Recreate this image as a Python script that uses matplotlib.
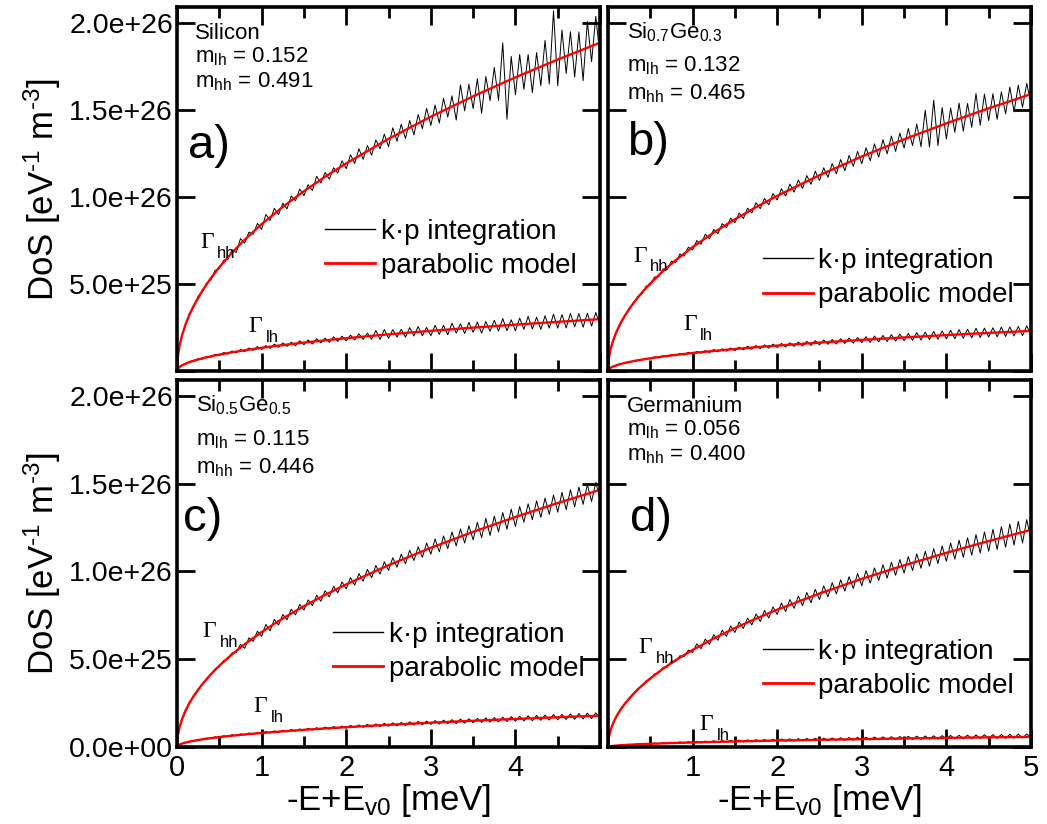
import numpy as np
import matplotlib
matplotlib.use("Agg")
import matplotlib.pyplot as plt
from matplotlib.lines import Line2D
from matplotlib.ticker import MultipleLocator, FuncFormatter

plt.rcParams['font.family'] = ['Liberation Sans', 'DejaVu Sans']
plt.rcParams['mathtext.fontset'] = 'custom'
plt.rcParams['mathtext.rm'] = 'Liberation Sans'
plt.rcParams['mathtext.it'] = 'Liberation Sans:italic'

SCALE = 1e25  # all DoS values below are in 1e25 eV^-1 m^-3

# energy grid of the k.p integration (meV)
E_KP = np.round(np.arange(1, 101) * 0.05, 2)
# energy points of the parabolic model curve (meV)
E_MODEL = [0, 0.01, 0.03, 0.06, 0.1, 0.15, 0.2, 0.3, 0.4, 0.5, 0.65, 0.8, 1.0,
           1.25, 1.5, 1.75, 2.0, 2.5, 3.0, 3.5, 4.0, 4.5, 5.0]

# a) Silicon
si_hh_model = [0, 0.843, 1.460, 2.065, 2.666, 3.265, 3.770, 4.617, 5.332, 5.961, 6.796, 7.540, 8.43,
               9.425, 10.324, 11.152, 11.922, 13.329, 14.602, 15.771, 16.86, 17.883, 18.850]
si_lh_model = [0, 0.133, 0.230, 0.326, 0.421, 0.515, 0.595, 0.728, 0.841, 0.940, 1.072, 1.190, 1.33,
               1.487, 1.629, 1.759, 1.881, 2.103, 2.304, 2.488, 2.66, 2.821, 2.974]
si_hh_kp = [1.93, 2.61, 3.34, 3.72, 4.30, 4.55, 5.05, 5.23, 5.78, 5.88,
            6.35, 6.41, 6.95, 6.80, 7.60, 7.34, 7.97, 7.85, 8.47, 8.13,
            8.99, 8.64, 9.34, 8.98, 9.63, 9.31, 10.05, 9.77, 10.45, 10.07,
            10.70, 10.36, 11.18, 10.79, 11.40, 11.01, 11.67, 11.37, 12.07, 11.62,
            12.42, 11.92, 12.76, 12.15, 12.95, 12.39, 13.27, 12.76, 13.60, 12.88,
            13.96, 13.19, 14.17, 13.35, 14.38, 13.56, 14.73, 13.91, 15.08, 14.10,
            15.27, 14.24, 15.66, 14.58, 15.80, 14.41, 16.43, 14.94, 16.46, 15.07,
            16.78, 14.80, 16.91, 15.52, 17.43, 15.53, 18.84, 14.45, 18.06, 15.86,
            18.17, 16.17, 18.17, 15.98, 18.28, 16.38, 18.98, 16.48, 20.68, 16.38,
            19.58, 17.08, 19.48, 16.88, 19.47, 16.67, 20.07, 17.76, 20.36, 18.05]
si_lh_kp = [0.32, 0.39, 0.55, 0.56, 0.71, 0.68, 0.84, 0.79, 0.95, 0.88,
            1.06, 0.97, 1.15, 1.04, 1.23, 1.11, 1.32, 1.18, 1.40, 1.24,
            1.46, 1.30, 1.54, 1.36, 1.61, 1.41, 1.65, 1.45, 1.73, 1.51,
            1.78, 1.55, 1.85, 1.61, 1.89, 1.64, 1.96, 1.70, 2.00, 1.73,
            2.06, 1.78, 2.13, 1.81, 2.17, 1.82, 2.32, 1.81, 2.38, 1.88,
            2.37, 1.95, 2.39, 1.94, 2.49, 2.01, 2.55, 2.02, 2.50, 2.02,
            2.62, 2.10, 2.62, 2.08, 2.75, 2.17, 2.71, 2.15, 2.79, 2.22,
            2.81, 2.17, 2.84, 2.28, 2.91, 2.29, 3.01, 2.31, 2.94, 2.31,
            3.04, 2.39, 3.13, 2.41, 3.09, 2.38, 3.17, 2.46, 3.26, 2.46,
            3.24, 2.47, 3.31, 2.53, 3.30, 2.51, 3.31, 2.58, 3.36, 2.62]

# b) Si0.7Ge0.3
sg73_hh_model = [0, 0.711, 1.231, 1.741, 2.248, 2.754, 3.180, 3.894, 4.497, 5.027, 5.732, 6.359, 7.11,
                 7.949, 8.708, 9.406, 10.055, 11.242, 12.315, 13.301, 14.22, 15.082, 15.899]
sg73_lh_model = [0, 0.103, 0.178, 0.252, 0.326, 0.399, 0.461, 0.564, 0.651, 0.728, 0.830, 0.921, 1.03,
                 1.152, 1.261, 1.363, 1.457, 1.629, 1.784, 1.927, 2.06, 2.185, 2.303]
sg73_hh_kp = [1.62, 2.21, 2.80, 3.13, 3.62, 3.83, 4.28, 4.42, 4.87, 4.93,
              5.39, 5.41, 5.86, 5.83, 6.31, 6.22, 6.72, 6.60, 7.11, 6.95,
              7.49, 7.28, 7.85, 7.59, 8.13, 7.89, 8.46, 8.23, 8.78, 8.51,
              9.07, 8.75, 9.35, 9.07, 9.66, 9.32, 9.91, 9.54, 10.18, 9.82,
              10.46, 10.04, 10.73, 10.27, 10.97, 10.48, 11.22, 10.72, 11.47, 10.94,
              11.67, 11.12, 11.91, 11.32, 12.14, 11.50, 12.38, 11.75, 12.61, 11.90,
              12.82, 12.07, 13.04, 12.28, 13.28, 12.47, 13.49, 12.61, 13.66, 12.80,
              13.92, 12.94, 14.18, 12.88, 14.97, 12.86, 15.55, 12.94, 15.13, 13.32,
              15.11, 13.70, 15.38, 13.77, 15.36, 13.99, 15.93, 14.11, 15.90, 14.38,
              15.92, 14.45, 16.03, 14.76, 16.30, 14.88, 16.41, 15.14, 16.52, 15.30]
sg73_lh_kp = [0.24, 0.31, 0.42, 0.44, 0.54, 0.54, 0.64, 0.62, 0.73, 0.69,
              0.81, 0.75, 0.88, 0.81, 0.94, 0.87, 1.01, 0.92, 1.07, 0.97,
              1.12, 1.02, 1.17, 1.06, 1.23, 1.10, 1.27, 1.14, 1.32, 1.17,
              1.37, 1.21, 1.42, 1.25, 1.46, 1.28, 1.50, 1.31, 1.54, 1.35,
              1.58, 1.38, 1.62, 1.41, 1.66, 1.44, 1.70, 1.47, 1.74, 1.50,
              1.78, 1.53, 1.81, 1.55, 1.85, 1.58, 1.89, 1.60, 1.92, 1.63,
              1.97, 1.64, 2.00, 1.67, 2.04, 1.69, 2.08, 1.71, 2.12, 1.74,
              2.15, 1.76, 2.20, 1.78, 2.23, 1.80, 2.27, 1.82, 2.30, 1.84,
              2.34, 1.85, 2.37, 1.88, 2.40, 1.90, 2.45, 1.92, 2.46, 1.95,
              2.48, 1.96, 2.52, 1.98, 2.53, 2.01, 2.56, 2.03, 2.59, 2.05]

# c) Si0.5Ge0.5
sg55_hh_model = [0, 0.655, 1.134, 1.604, 2.071, 2.537, 2.929, 3.587, 4.143, 4.632, 5.281, 5.858, 6.55,
                 7.323, 8.022, 8.665, 9.263, 10.356, 11.345, 12.254, 13.10, 13.895, 14.646]
sg55_lh_model = [0, 0.080, 0.139, 0.196, 0.253, 0.310, 0.358, 0.438, 0.506, 0.566, 0.645, 0.716, 0.80,
                 0.894, 0.980, 1.058, 1.131, 1.265, 1.386, 1.497, 1.60, 1.697, 1.789]
sg55_hh_kp = [1.49, 2.04, 2.57, 2.90, 3.31, 3.55, 3.92, 4.10, 4.45, 4.58,
              4.92, 5.01, 5.36, 5.38, 5.85, 5.62, 6.22, 6.02, 6.60, 6.30,
              6.98, 6.62, 7.27, 6.95, 7.55, 7.25, 7.85, 7.52, 8.12, 7.80,
              8.38, 8.05, 8.65, 8.30, 8.90, 8.55, 9.15, 8.78, 9.40, 9.01,
              9.65, 9.22, 9.88, 9.44, 10.12, 9.64, 10.34, 9.85, 10.55, 10.06,
              10.78, 10.24, 10.98, 10.44, 11.20, 10.62, 11.40, 10.80, 11.62, 10.98,
              11.85, 11.12, 12.02, 11.30, 12.25, 11.45, 12.42, 11.62, 12.60, 11.80,
              12.80, 11.92, 13.02, 12.05, 13.15, 12.25, 13.35, 12.40, 13.55, 12.55,
              13.70, 12.80, 13.85, 12.95, 14.02, 13.08, 14.18, 13.25, 14.35, 13.38,
              14.50, 13.52, 14.65, 13.68, 14.80, 13.82, 14.95, 13.98, 15.08, 14.12]
sg55_lh_kp = [0.19, 0.24, 0.33, 0.34, 0.43, 0.42, 0.51, 0.48, 0.58, 0.54,
              0.64, 0.59, 0.70, 0.64, 0.75, 0.68, 0.80, 0.73, 0.84, 0.76,
              0.89, 0.80, 0.92, 0.83, 0.96, 0.87, 1.00, 0.90, 1.03, 0.93,
              1.07, 0.96, 1.10, 0.99, 1.14, 1.02, 1.17, 1.05, 1.20, 1.07,
              1.23, 1.10, 1.26, 1.12, 1.29, 1.14, 1.32, 1.16, 1.35, 1.18,
              1.38, 1.20, 1.40, 1.23, 1.43, 1.25, 1.46, 1.27, 1.48, 1.29,
              1.51, 1.31, 1.53, 1.33, 1.56, 1.34, 1.59, 1.36, 1.61, 1.38,
              1.63, 1.40, 1.66, 1.42, 1.68, 1.44, 1.70, 1.45, 1.73, 1.47,
              1.75, 1.49, 1.78, 1.50, 1.80, 1.52, 1.82, 1.54, 1.85, 1.55,
              1.86, 1.57, 1.89, 1.58, 1.91, 1.60, 1.93, 1.62, 1.95, 1.64]

# d) Germanium
ge_hh_model = [0, 0.553, 0.958, 1.354, 1.749, 2.142, 2.473, 3.029, 3.498, 3.910, 4.458, 4.946, 5.53,
               6.183, 6.773, 7.316, 7.821, 8.743, 9.578, 10.346, 11.06, 11.731, 12.366]
ge_lh_model = [0, 0.026, 0.045, 0.064, 0.082, 0.101, 0.116, 0.142, 0.164, 0.184, 0.210, 0.233, 0.26,
               0.291, 0.318, 0.344, 0.368, 0.411, 0.450, 0.486, 0.52, 0.552, 0.581]
ge_hh_kp = [1.26, 1.72, 2.17, 2.44, 2.80, 2.99, 3.32, 3.45, 3.77, 3.85,
            4.17, 4.21, 4.54, 4.55, 4.88, 4.86, 5.20, 5.15, 5.52, 5.38,
            5.88, 5.60, 6.15, 5.85, 6.40, 6.08, 6.65, 6.30, 6.90, 6.52,
            7.12, 6.75, 7.35, 6.95, 7.58, 7.15, 7.78, 7.35, 7.98, 7.55,
            8.20, 7.72, 8.40, 7.90, 8.60, 8.05, 8.80, 8.22, 8.98, 8.40,
            9.18, 8.55, 9.36, 8.72, 9.52, 8.88, 9.70, 9.03, 9.88, 9.18,
            10.05, 9.33, 10.20, 9.48, 10.38, 9.62, 10.52, 9.78, 10.68, 9.90,
            10.85, 10.05, 11.00, 10.18, 11.15, 10.30, 11.30, 10.45, 11.45, 10.58,
            11.62, 10.70, 11.78, 10.80, 11.92, 10.92, 12.10, 11.05, 12.25, 11.15,
            12.40, 11.25, 12.55, 11.38, 12.70, 11.50, 12.85, 11.62, 12.95, 11.80]
ge_lh_kp = [0.07, 0.07, 0.12, 0.10, 0.16, 0.12, 0.19, 0.14, 0.21, 0.16,
            0.23, 0.18, 0.25, 0.19, 0.27, 0.20, 0.29, 0.22, 0.31, 0.23,
            0.33, 0.24, 0.34, 0.25, 0.36, 0.26, 0.37, 0.27, 0.38, 0.28,
            0.40, 0.29, 0.41, 0.30, 0.42, 0.31, 0.43, 0.32, 0.44, 0.33,
            0.46, 0.33, 0.47, 0.34, 0.48, 0.35, 0.49, 0.36, 0.50, 0.36,
            0.51, 0.37, 0.52, 0.38, 0.53, 0.38, 0.54, 0.39, 0.55, 0.40,
            0.56, 0.40, 0.57, 0.41, 0.58, 0.42, 0.59, 0.42, 0.60, 0.43,
            0.61, 0.43, 0.62, 0.44, 0.63, 0.45, 0.64, 0.45, 0.65, 0.46,
            0.66, 0.46, 0.67, 0.47, 0.68, 0.47, 0.69, 0.48, 0.70, 0.48,
            0.71, 0.49, 0.72, 0.49, 0.73, 0.50, 0.74, 0.51, 0.75, 0.51]

panels = [
    dict(pos=[0.1691, 0.5498, 0.4040, 0.4417], letter="a)", name="Silicon", mlh="0.152", mhh="0.491",
         hh_kp=si_hh_kp, lh_kp=si_lh_kp, hh_model=si_hh_model, lh_model=si_lh_model,
         text_x=0.043, text_y=(0.912, 0.849, 0.780), letter_xy=(0.026, 0.585),
         g_hh=(0.054, 0.338), g_lh=(0.168, 0.107), leg=(0.350, 0.335)),
    dict(pos=[0.5807, 0.5498, 0.4040, 0.4417], letter="b)", name=r"Si$_{\rm 0.7}$Ge$_{\rm 0.3}$",
         mlh="0.132", mhh="0.465",
         hh_kp=sg73_hh_kp, lh_kp=sg73_lh_kp, hh_model=sg73_hh_model, lh_model=sg73_lh_model,
         text_x=0.045, text_y=(0.915, 0.822, 0.745), letter_xy=(0.045, 0.593),
         g_hh=(0.059, 0.300), g_lh=(0.177, 0.113), leg=(0.366, 0.255)),
    dict(pos=[0.1691, 0.0934, 0.4040, 0.4454], letter="c)", name=r"Si$_{\rm 0.5}$Ge$_{\rm 0.5}$",
         mlh="0.115", mhh="0.446",
         hh_kp=sg55_hh_kp, lh_kp=sg55_lh_kp, hh_model=sg55_hh_model, lh_model=sg55_lh_model,
         text_x=0.045, text_y=(0.915, 0.822, 0.745), letter_xy=(0.014, 0.590),
         g_hh=(0.061, 0.300), g_lh=(0.180, 0.095), leg=(0.369, 0.259)),
    dict(pos=[0.5807, 0.0934, 0.4040, 0.4454], letter="d)", name="Germanium", mlh="0.056", mhh="0.400",
         hh_kp=ge_hh_kp, lh_kp=ge_lh_kp, hh_model=ge_hh_model, lh_model=ge_lh_model,
         text_x=0.045, text_y=(0.912, 0.849, 0.780), letter_xy=(0.052, 0.590),
         g_hh=(0.071, 0.256), g_lh=(0.217, 0.046), leg=(0.366, 0.213)),
]


def gamma_label(ax, xy, sub):
    ax.text(xy[0], xy[1], "\u0393", transform=ax.transAxes, fontsize=17,
            family=['Liberation Serif', 'DejaVu Serif'], va='baseline')
    ax.annotate(sub, xy=xy, xycoords='axes fraction', xytext=(12.5, -7),
                textcoords='offset points', fontsize=12, va='baseline')


fig = plt.figure(figsize=(10.47, 8.24), dpi=100)

for i, p in enumerate(panels):
    ax = fig.add_axes(p['pos'])
    ax.plot(E_KP, np.array(p['hh_kp']) * SCALE, color='black', lw=0.7)
    ax.plot(E_KP, np.array(p['lh_kp']) * SCALE, color='black', lw=0.7)
    ax.plot(E_MODEL, np.array(p['hh_model']) * SCALE, color='red', lw=1.7)
    ax.plot(E_MODEL, np.array(p['lh_model']) * SCALE, color='red', lw=1.7)

    ax.set_xlim(0, 5)
    ax.set_ylim(0, 2.09e26)
    ax.xaxis.set_major_locator(MultipleLocator(1))
    ax.xaxis.set_minor_locator(MultipleLocator(0.5))
    ax.yaxis.set_major_locator(MultipleLocator(0.5e26))
    ax.tick_params(which='both', direction='in', top=True, right=True, width=2)
    ax.tick_params(which='major', length=13)
    ax.tick_params(which='minor', length=8)
    ax.tick_params(axis='x', labelsize=21, pad=5)
    ax.tick_params(axis='y', labelsize=20.5, pad=3)
    for s in ax.spines.values():
        s.set_linewidth(2.6)

    left = i % 2 == 0
    bottom = i >= 2
    if left:
        hide_zero = not bottom
        ax.yaxis.set_major_formatter(FuncFormatter(
            lambda v, pos, hz=hide_zero: "" if (hz and v == 0) else f"{v:.1e}"))
    else:
        ax.tick_params(axis='y', labelleft=False)
    if bottom:
        if left:
            ax.xaxis.set_major_formatter(FuncFormatter(lambda v, pos: "" if v > 4.5 else f"{v:.0f}"))
        else:
            ax.xaxis.set_major_formatter(FuncFormatter(lambda v, pos: "" if v < 0.5 else f"{v:.0f}"))
    else:
        ax.tick_params(axis='x', labelbottom=False)

    tx = p['text_x']
    ty = p['text_y']
    ax.text(tx, ty[0], p['name'], transform=ax.transAxes, fontsize=16, va='baseline')
    ax.text(tx, ty[1], r"m$_{\rm lh}$ = " + p['mlh'], transform=ax.transAxes, fontsize=16, va='baseline')
    ax.text(tx, ty[2], r"m$_{\rm hh}$ = " + p['mhh'], transform=ax.transAxes, fontsize=16, va='baseline')
    ax.text(p['letter_xy'][0], p['letter_xy'][1], p['letter'], transform=ax.transAxes,
            fontsize=34, va='baseline')

    gamma_label(ax, p['g_hh'], "hh")
    gamma_label(ax, p['g_lh'], "lh")

    handles = [Line2D([], [], color='black', lw=1.0), Line2D([], [], color='red', lw=2.0)]
    ax.legend(handles, ["k\u00b7p integration", "parabolic model"], loc='center left',
              bbox_to_anchor=p['leg'], frameon=False, fontsize=20, handlelength=1.8,
              handletextpad=0.2, borderpad=0, borderaxespad=0, labelspacing=0.3)

# row / column labels
for yc in (0.7706, 0.316):
    fig.text(0.040, yc, r"DoS [eV$^{\text{-1}}$ m$^{\text{-3}}$]", rotation=90, fontsize=25,
             ha='center', va='center')
for xc in (0.371, 0.7827):
    fig.text(xc, 0.017, r"-E+E$_{\rm v0}$ [meV]", fontsize=25, ha='center', va='baseline')

fig.savefig("out.png", dpi=100)
